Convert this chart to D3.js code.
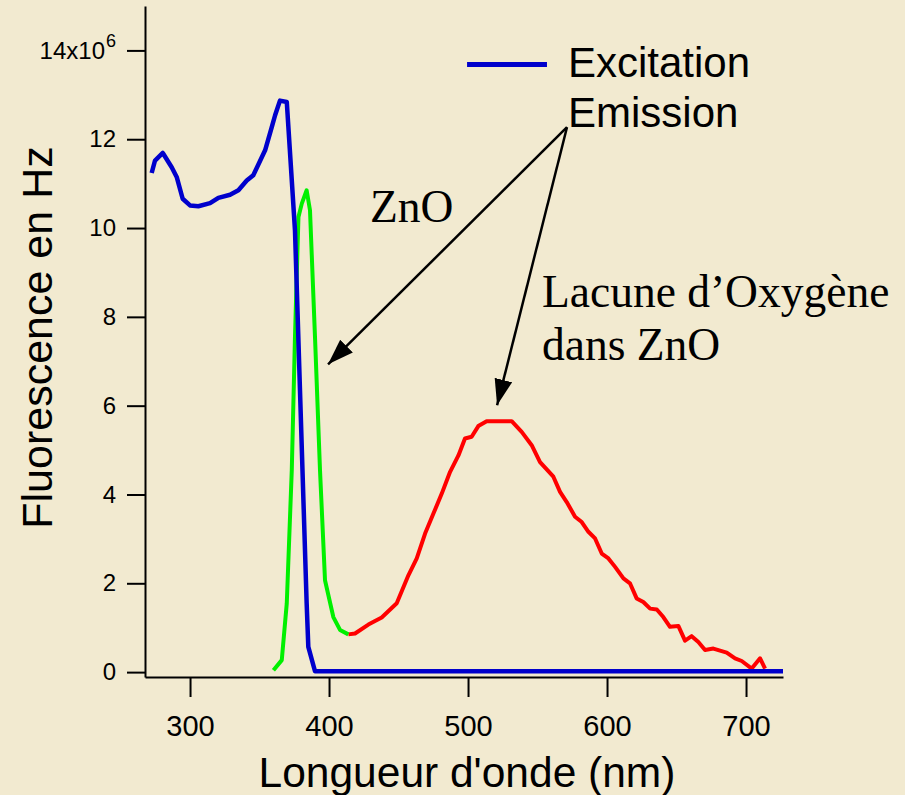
<!DOCTYPE html>
<html>
<head>
<meta charset="utf-8">
<script src="https://cdn.jsdelivr.net/npm/d3@7"></script>
<style>
  html, body { margin: 0; padding: 0; background: #f2ead0; }
  svg { display: block; }
  .axis text { font-family: "Liberation Sans", Arial, sans-serif; fill: #000; }
  .axis path, .axis line { stroke: #000; stroke-width: 2; }
</style>
</head>
<body>
<svg id="chart"></svg>
<script>
// Excitation spectrum (nm, fluorescence in 10^6 Hz)
const excitationNm = [272.4, 274.8, 280.4, 286.8, 290.4, 294.7, 300, 306, 314.4, 320.4, 328.8, 334.8, 340.8, 345.5, 354, 358.8, 361.2, 364.7, 369.6, 375.5, 383.9, 385.1, 389.9, 420, 500, 600, 700, 726.6];
const excitationVal = [11.24, 11.52, 11.69, 11.37, 11.15, 10.66, 10.51, 10.49, 10.56, 10.68, 10.75, 10.85, 11.07, 11.19, 11.75, 12.27, 12.54, 12.87, 12.84, 9.95, 1.55, 0.57, 0.02, 0.02, 0.02, 0.02, 0.02, 0.02];

// Emission, ZnO band (green)
const emissionZnONm = [360, 366, 369.6, 373.2, 375.5, 378, 380.4, 383.9, 386.3, 389.9, 393.5, 397.1, 403.1, 407.9, 413.9];
const emissionZnOVal = [0.04, 0.27, 1.55, 4.55, 7.55, 10.25, 10.55, 10.85, 10.4, 7.55, 4.55, 2.07, 1.24, 0.95, 0.85];

// Emission, oxygen vacancy band (red)
const emissionVoNm = [413.9, 418.7, 428.3, 437.9, 448.7, 457.1, 463.1, 469.1, 475.1, 481.1, 487.1, 493.1, 497.8, 502.6, 507.4, 513.4, 531.4, 538.6, 545.8, 551.8, 561.4, 566.2, 571.0, 577.0, 581.8, 586.6, 591.4, 596.2, 601.0, 605.8, 611.8, 616.5, 621.3, 626.1, 631.0, 635.8, 640.5, 645.3, 651.3, 656.1, 660.9, 665.7, 670.5, 676.5, 686.1, 692.1, 696.9, 704.1, 710.1, 713.7];
const emissionVoVal = [0.85, 0.87, 1.07, 1.23, 1.55, 2.18, 2.56, 3.12, 3.57, 4.02, 4.51, 4.88, 5.26, 5.30, 5.54, 5.65, 5.65, 5.41, 5.11, 4.73, 4.40, 4.06, 3.83, 3.50, 3.38, 3.16, 3.01, 2.67, 2.56, 2.37, 2.11, 2.00, 1.66, 1.58, 1.43, 1.41, 1.24, 1.02, 1.04, 0.71, 0.81, 0.68, 0.50, 0.53, 0.44, 0.31, 0.25, 0.08, 0.31, 0.08];

const xTicks = [300, 400, 500, 600, 700];
const yTicks = [0, 2, 4, 6, 8, 10, 12, 14];

const width = 905, height = 795;
const svg = d3.select('#chart').attr('width', width).attr('height', height);

const x = d3.scaleLinear().domain([267.6, 726.6]).range([145, 783]);
const y = d3.scaleLinear().domain([-0.11, 15.0]).range([677, 6]);

const toPts = (xs, ys) => xs.map((d, i) => [d, ys[i]]);
const line = d3.line().x(d => x(d[0])).y(d => y(d[1]));

// axes
const yAxis = svg.append('g')
  .attr('class', 'axis')
  .attr('transform', `translate(${x.range()[0]},0)`)
  .call(d3.axisLeft(y).tickValues(yTicks).tickSize(18).tickSizeOuter(0).tickPadding(11));
yAxis.selectAll('text').style('font-size', '24px');
const t14 = yAxis.selectAll('.tick').filter(d => d === 14).select('text').text(null);
t14.append('tspan').text('14x10');
t14.append('tspan').attr('dy', '-0.62em').style('font-size', '18px').attr('dx', '1').text('6');

const xAxis = svg.append('g')
  .attr('class', 'axis')
  .attr('transform', `translate(0,${y.range()[0]})`)
  .call(d3.axisBottom(x).tickValues(xTicks).tickSize(20).tickSizeOuter(0).tickPadding(18));
xAxis.selectAll('text').style('font-size', '29px');

// axis titles
svg.append('text')
  .attr('transform', `translate(52,${(y.range()[0] + y.range()[1]) / 2 - 4}) rotate(-90)`)
  .attr('text-anchor', 'middle')
  .style('font-family', '"Liberation Sans", Arial, sans-serif')
  .style('font-size', '43px')
  .text('Fluorescence en Hz');

svg.append('text')
  .attr('x', 467).attr('y', 787)
  .attr('text-anchor', 'middle')
  .style('font-family', '"Liberation Sans", Arial, sans-serif')
  .style('font-size', '42.5px')
  .text("Longueur d'onde (nm)");

// traces
svg.append('path')
  .datum(toPts(emissionVoNm, emissionVoVal))
  .attr('d', line).attr('fill', 'none')
  .attr('stroke', '#ff0000').attr('stroke-width', 4).attr('stroke-linejoin', 'round');

svg.append('path')
  .datum(toPts(emissionZnONm, emissionZnOVal))
  .attr('d', line).attr('fill', 'none')
  .attr('stroke', '#00f000').attr('stroke-width', 4).attr('stroke-linejoin', 'round');

svg.append('path')
  .datum(toPts(excitationNm, excitationVal))
  .attr('d', line).attr('fill', 'none')
  .attr('stroke', '#0000cc').attr('stroke-width', 4.5).attr('stroke-linejoin', 'round');

// legend
svg.append('line')
  .attr('x1', x(499.3)).attr('x2', x(556.8))
  .attr('y1', y(13.68)).attr('y2', y(13.68))
  .attr('stroke', '#0000cc').attr('stroke-width', 5);

const legendText = [['Excitation', 13.39], ['Emission', 12.27]];
svg.selectAll('.leg').data(legendText).enter().append('text')
  .attr('class', 'leg')
  .attr('x', x(571.9)).attr('y', d => y(d[1]))
  .style('font-family', '"Liberation Sans", Arial, sans-serif')
  .style('font-size', '42px')
  .text(d => d[0]);

// annotation arrows
svg.append('defs').append('marker')
  .attr('id', 'head')
  .attr('markerUnits', 'userSpaceOnUse')
  .attr('markerWidth', 27).attr('markerHeight', 19)
  .attr('refX', 26).attr('refY', 9)
  .attr('orient', 'auto')
  .append('path').attr('d', 'M0,0 L26,9 L0,18 Z').attr('fill', '#000');

const arrowFrom = [571.2, 12.27];
const arrowTips = [[399.3, 6.93], [520.9, 6.01]];
svg.selectAll('.arrow').data(arrowTips).enter().append('line')
  .attr('class', 'arrow')
  .attr('x1', x(arrowFrom[0])).attr('y1', y(arrowFrom[1]))
  .attr('x2', d => x(d[0])).attr('y2', d => y(d[1]))
  .attr('stroke', '#000').attr('stroke-width', 2.5)
  .attr('marker-end', 'url(#head)');

const notes = [['ZnO', 429.5, 10.13], ['Lacune d\u2019Oxygène', 553.2, 8.22], ['dans ZnO', 553.2, 7.03]];
svg.selectAll('.note').data(notes).enter().append('text')
  .attr('class', 'note')
  .attr('x', d => x(d[1])).attr('y', d => y(d[2]))
  .style('font-family', '"Liberation Serif", "Times New Roman", serif')
  .style('font-size', '45.5px')
  .text(d => d[0]);
</script>
</body>
</html>
